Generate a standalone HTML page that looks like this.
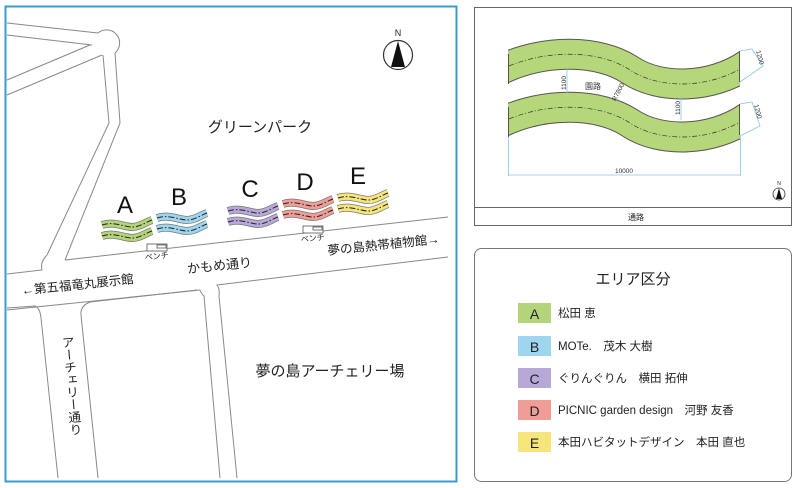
<!DOCTYPE html>
<html><head><meta charset="utf-8"><style>
html,body{margin:0;padding:0;background:#fff;}
svg{display:block;font-family:"Liberation Sans","Noto Sans CJK JP",sans-serif;}
</style></head><body>
<svg width="800" height="488" viewBox="0 0 800 488" xmlns="http://www.w3.org/2000/svg">
<defs>
<g id="band">
 <path d="M0,3 C12,-1 22,5 30,5 S44,0 50,-2" fill="none" stroke="#777" stroke-width="8"/>
 <path d="M0,3 C12,-1 22,5 30,5 S44,0 50,-2" fill="none" stroke="currentColor" stroke-width="6.5"/>
 <path d="M0,3 C12,-1 22,5 30,5 S44,0 50,-2" fill="none" stroke="#222" stroke-width="1" stroke-dasharray="6,2,1.5,2"/>
</g>
<clipPath id="bc"><rect x="508" y="20" width="232" height="160"/></clipPath>
</defs>
<rect width="800" height="488" fill="#fff"/>
<!-- left panel -->
<rect x="5.5" y="6.5" width="451" height="475" fill="#fff" stroke="#3b9bd0" stroke-width="2"/>
<g fill="none" stroke="#888" stroke-width="1">
 <path d="M7,23 L98,33"/>
 <path d="M7,35 L92,45"/>
 <path d="M7,80 L90,45"/>
 <path d="M7,95 L102,55"/>
 <path d="M98,33 A11,11 0 1 1 115,53"/>
 <path d="M103,55 L109,123 L47,255"/>
 <path d="M115,53 L120,123 L65,260"/>
 <path d="M47,255 Q40,262 42,270 L7,274"/>
 <path d="M65,260 L448,217"/>
 <path d="M7,310 L200,290 Q202,295 204,296 L220,478"/>
 <path d="M237,478 L219,296 Q220,289 217,285 L448,257"/>
 <path d="M7,308 L35,306 Q40,308 41,318 L58,478"/>
 <path d="M98,478 L81,315 Q80,306 90,302 L197,290"/>
</g>
<text x="398" y="36" font-size="9" text-anchor="middle" fill="#222">N</text>
<circle cx="398" cy="55" r="14.5" fill="#fff" stroke="#333" stroke-width="1.2"/>
<path d="M398,41 L391,67 L405,67 Z" fill="#111"/>
<text x="260" y="132" font-size="15" text-anchor="middle" fill="#222">グリーンパーク</text>
<g color="#b3d47a"><use href="#band" transform="translate(102,222)"/><use href="#band" transform="translate(102,233)"/></g>
<g color="#9fd6ef"><use href="#band" transform="translate(157,215)"/><use href="#band" transform="translate(157,226)"/></g>
<g color="#b8a8d8"><use href="#band" transform="translate(228,208)"/><use href="#band" transform="translate(228,219)"/></g>
<g color="#ef9d96"><use href="#band" transform="translate(283,201)"/><use href="#band" transform="translate(283,212)"/></g>
<g color="#f6e57a"><use href="#band" transform="translate(338,195)"/><use href="#band" transform="translate(338,206)"/></g>
<g font-size="24" fill="#111" text-anchor="middle">
<text x="125" y="213">A</text><text x="179" y="205">B</text><text x="250" y="197">C</text><text x="305" y="190">D</text><text x="358" y="184">E</text>
</g>
<g fill="#fff" stroke="#555" stroke-width="0.8">
<rect x="147" y="244" width="20" height="7"/><rect x="157" y="245" width="9" height="3"/>
<rect x="303" y="226" width="20" height="7"/><rect x="313" y="227" width="9" height="3"/>
</g>
<g font-size="8" fill="#222" text-anchor="middle">
<text x="157" y="259" transform="rotate(-6 157 259)">ベンチ</text>
<text x="313" y="241" transform="rotate(-6 313 241)">ベンチ</text>
</g>
<text x="220" y="270" font-size="13" text-anchor="middle" fill="#222" transform="rotate(-6 220 270)">かもめ通り</text>
<text x="78" y="289" font-size="12.5" text-anchor="middle" fill="#222" transform="rotate(-6 78 289)">←第五福竜丸展示館</text>
<text x="384" y="249" font-size="12.5" text-anchor="middle" fill="#222" transform="rotate(-6 384 249)">夢の島熱帯植物館→</text>
<text x="330" y="376" font-size="15" text-anchor="middle" fill="#222">夢の島アーチェリー場</text>
<text x="70" y="336" font-size="12.5" fill="#222" style="writing-mode:vertical-rl" transform="rotate(-5 70 380)">アーチェリー通り</text>
<!-- right top panel -->
<rect x="474.5" y="7.5" width="317" height="218" fill="#fff" stroke="#666" stroke-width="1"/>
<line x1="474" y1="207.5" x2="792" y2="207.5" stroke="#666"/>
<text x="636" y="220" font-size="8" text-anchor="middle" fill="#222">通路</text>
<g fill="none" clip-path="url(#bc)">
 <path d="M500,70 C545,48 600,50 630,70 S712,89 748,64" stroke="#555" stroke-width="31"/>
 <path d="M500,70 C545,48 600,50 630,70 S712,89 748,64" stroke="#b5d679" stroke-width="29"/>
 <path d="M500,70 C545,48 600,50 630,70 S712,89 748,64" stroke="#333" stroke-width="0.7" stroke-dasharray="5,2,1,2"/>
 <path d="M500,123 C545,101 600,103 630,123 S712,142 748,117" stroke="#555" stroke-width="31"/>
 <path d="M500,123 C545,101 600,103 630,123 S712,142 748,117" stroke="#b5d679" stroke-width="29"/>
 <path d="M500,123 C545,101 600,103 630,123 S712,142 748,117" stroke="#333" stroke-width="0.7" stroke-dasharray="5,2,1,2"/>
</g>
<g stroke="#555" stroke-width="1">
 <line x1="508.5" y1="54" x2="508.5" y2="84"/>
 <line x1="508.5" y1="107" x2="508.5" y2="137"/>
 <line x1="739.5" y1="51" x2="739.5" y2="82"/>
 <line x1="739.5" y1="104" x2="739.5" y2="135"/>
</g>
<g stroke="#8cc4e2" stroke-width="0.8" fill="none">
 <line x1="567" y1="69" x2="567" y2="93"/>
 <line x1="681" y1="97" x2="681" y2="120"/>
 <line x1="508.5" y1="137" x2="508.5" y2="176"/>
 <line x1="740.5" y1="136" x2="740.5" y2="176"/>
 <line x1="508" y1="175" x2="740" y2="175"/>
 <path d="M740,51 L752,49 L763,66 L740,82"/>
 <path d="M740,104 L752,102 L760,126 L740,136"/>
</g>
<g font-size="6.5" fill="#333">
<text x="566" y="83" transform="rotate(-90 566 83)" text-anchor="middle">1100</text>
<text x="680" y="108" transform="rotate(-90 680 108)" text-anchor="middle">1100</text>
<text x="624" y="173" text-anchor="middle">10000</text>
<text x="758" y="58" transform="rotate(75 758 58)" text-anchor="middle">1200</text>
<text x="756" y="112" transform="rotate(75 756 112)" text-anchor="middle">1200</text>
<text x="620" y="93" transform="rotate(-62 620 93)" text-anchor="middle">R7800</text>
<text x="593" y="89" font-size="8" text-anchor="middle">園路</text>
</g>
<text x="779" y="185" font-size="5" text-anchor="middle" fill="#222">N</text>
<circle cx="779" cy="194" r="6" fill="#fff" stroke="#333" stroke-width="0.8"/>
<path d="M779,188 L776,199 L782,199 Z" fill="#111"/>
<!-- legend -->
<rect x="474.5" y="248.5" width="317" height="233" rx="7" fill="#fff" stroke="#777" stroke-width="1"/>
<text x="633" y="284" font-size="15" text-anchor="middle" fill="#222">エリア区分</text>
<g>
<rect x="518" y="303" width="33" height="20" fill="#b3d47a"/>
<rect x="518" y="336" width="33" height="20" fill="#9fd6ef"/>
<rect x="518" y="368" width="33" height="20" fill="#b8a8d8"/>
<rect x="518" y="400" width="33" height="20" fill="#ef9d96"/>
<rect x="518" y="432" width="33" height="20" fill="#f6e57a"/>
</g>
<g font-size="14" fill="#222" text-anchor="middle">
<text x="534.5" y="319">A</text><text x="534.5" y="352">B</text><text x="534.5" y="384">C</text><text x="534.5" y="416">D</text><text x="534.5" y="448">E</text>
</g>
<g font-size="11.5" fill="#222">
<text x="558" y="317">松田 恵</text>
<text x="558" y="350">MOTe.　茂木 大樹</text>
<text x="558" y="382">ぐりんぐりん　横田 拓伸</text>
<text x="558" y="414">PICNIC garden design　河野 友香</text>
<text x="558" y="446">本田ハビタットデザイン　本田 直也</text>
</g>
</svg>
</body></html>
